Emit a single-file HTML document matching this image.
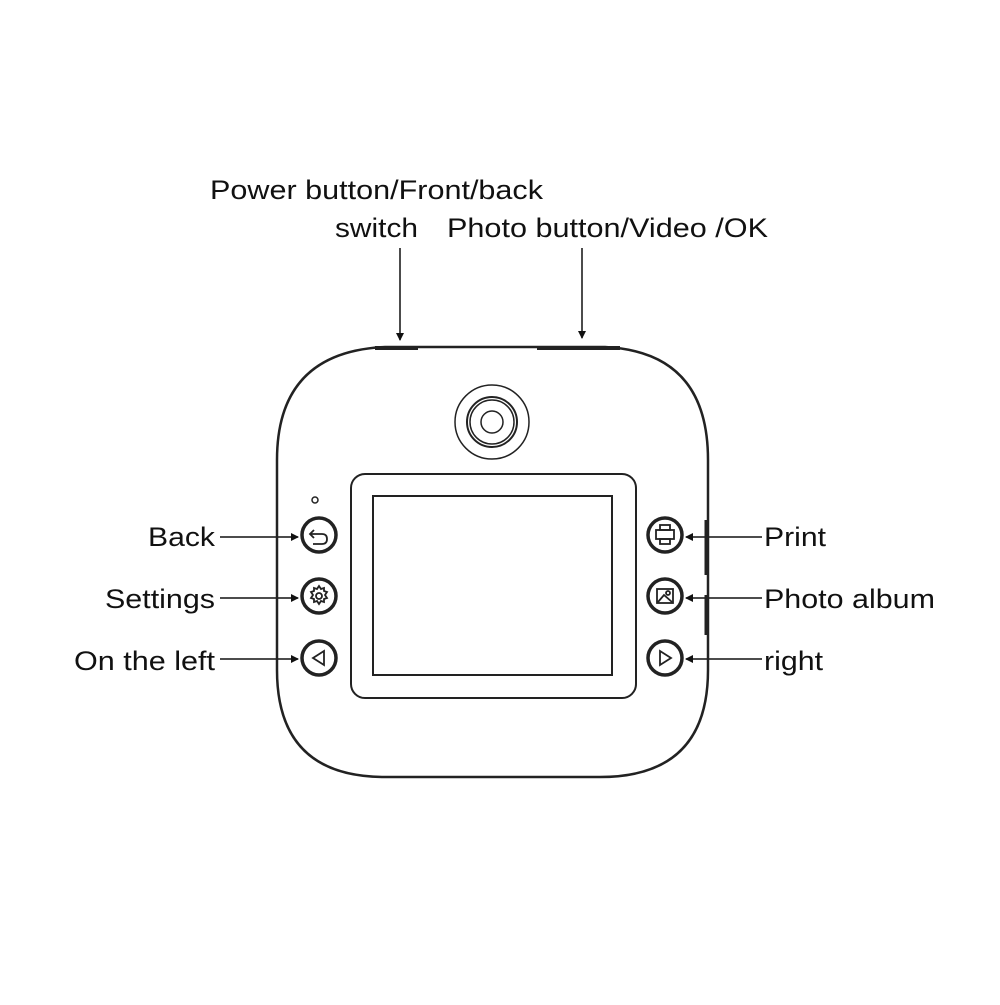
<!DOCTYPE html>
<html><head><style>html,body{margin:0;padding:0;background:#fff}</style></head>
<body>
<svg width="1000" height="1000" viewBox="0 0 1000 1000" xmlns="http://www.w3.org/2000/svg" font-family="Liberation Sans, Arial, sans-serif" font-size="27" fill="#111">
<defs><marker id="a" markerWidth="8" markerHeight="8" refX="7" refY="4" orient="auto" markerUnits="userSpaceOnUse"><path d="M0,0 L8,4 L0,8 z" fill="#111"/></marker></defs>
<text x="210" y="199" textLength="333" lengthAdjust="spacingAndGlyphs">Power button/Front/back</text>
<text x="335" y="237" textLength="83" lengthAdjust="spacingAndGlyphs">switch</text>
<text x="447" y="237" textLength="321" lengthAdjust="spacingAndGlyphs">Photo button/Video /OK</text>
<text x="148" y="546" textLength="67" lengthAdjust="spacingAndGlyphs">Back</text>
<text x="105" y="608" textLength="110" lengthAdjust="spacingAndGlyphs">Settings</text>
<text x="74" y="670" textLength="141" lengthAdjust="spacingAndGlyphs">On the left</text>
<text x="764" y="546" textLength="62" lengthAdjust="spacingAndGlyphs">Print</text>
<text x="764" y="608" textLength="171" lengthAdjust="spacingAndGlyphs">Photo album</text>
<text x="764" y="670" textLength="59" lengthAdjust="spacingAndGlyphs">right</text>
<g stroke="#111" stroke-width="1.5" fill="none">
<line x1="400" y1="248" x2="400" y2="340" marker-end="url(#a)"/>
<line x1="582" y1="248" x2="582" y2="338" marker-end="url(#a)"/>
<line x1="220" y1="537" x2="298" y2="537" marker-end="url(#a)"/>
<line x1="220" y1="598" x2="298" y2="598" marker-end="url(#a)"/>
<line x1="220" y1="659" x2="298" y2="659" marker-end="url(#a)"/>
<line x1="762" y1="537" x2="686" y2="537" marker-end="url(#a)"/>
<line x1="762" y1="598" x2="686" y2="598" marker-end="url(#a)"/>
<line x1="762" y1="659" x2="686" y2="659" marker-end="url(#a)"/>
</g>
<g fill="none" stroke="#222">
<path d="M385,347 L605,347 Q708,352 708,460 L708,670 Q708,777 600,777 L385,777 Q277,777 277,670 L277,460 Q277,352 385,347 Z" stroke-width="2.5"/>
<path d="M375,348 L418,348" stroke-width="4"/>
<path d="M537,348 L620,348" stroke-width="4"/>
<line x1="706" y1="520" x2="706" y2="575" stroke-width="3"/>
<line x1="706" y1="595" x2="706" y2="635" stroke-width="3"/>
<circle cx="492" cy="422" r="37" stroke-width="1.5"/>
<circle cx="492" cy="422" r="25" stroke-width="2"/>
<circle cx="492" cy="422" r="22" stroke-width="1.5"/>
<circle cx="492" cy="422" r="11" stroke-width="1.5"/>
<rect x="351" y="474" width="285" height="224" rx="14" stroke-width="2"/>
<rect x="373" y="496" width="239" height="179" stroke-width="2"/>
<circle cx="315" cy="500" r="3" stroke-width="1.5"/>
<g stroke-width="3.5">
<circle cx="319" cy="535" r="17"/><circle cx="319" cy="596" r="17"/><circle cx="319" cy="658" r="17"/>
<circle cx="665" cy="535" r="17"/><circle cx="665" cy="596" r="17"/><circle cx="665" cy="658" r="17"/>
</g>
<g stroke-width="1.8">
<path d="M314,530 L310,534 L314,538 M310,534 L322,534 Q327,534 327,539 Q327,544 322,544 L313,544"/>
<circle cx="319" cy="596" r="3"/>
<path d="M319,586 l2,3 3,-1 0,3 3,1 -2,3 2,3 -3,1 0,3 -3,-1 -2,3 -2,-3 -3,1 0,-3 -3,-1 2,-3 -2,-3 3,-1 0,-3 3,1 z"/>
<path d="M324,651 L313,658 L324,665 Z"/>
<path d="M660,651 L671,658 L660,665 Z"/>
<rect x="656" y="530" width="18" height="9"/>
<rect x="660" y="525" width="10" height="5"/>
<rect x="660" y="539" width="10" height="5"/>
<rect x="657" y="589" width="16" height="14"/>
<path d="M658,602 L664,595 L672,602"/><circle cx="668" cy="593" r="2"/>
</g>
</g>
</svg>
</body></html>
